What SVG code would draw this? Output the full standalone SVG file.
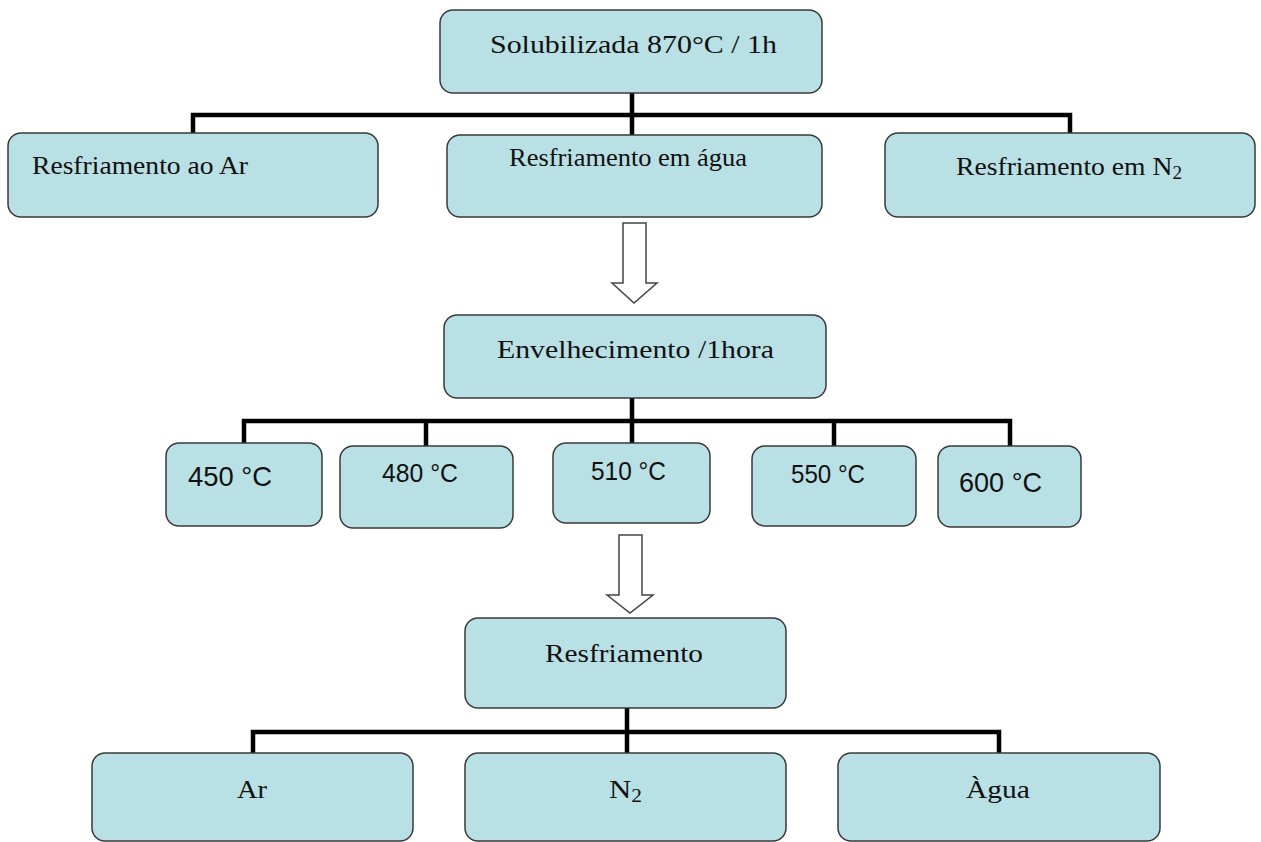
<svg xmlns="http://www.w3.org/2000/svg" width="1261" height="842" viewBox="0 0 1261 842">
<style>
.box{fill:#b9e0e4;stroke:#3a3a3a;stroke-width:1.5}
.serif{font-family:"Liberation Serif","Times New Roman",serif;font-size:26px;fill:#111}
.sans{font-family:"Liberation Sans",Arial,sans-serif;font-size:25px;fill:#111}
.big{font-size:28px}
.conn{fill:none;stroke:#000;stroke-width:4.5}
.arrow{fill:#fff;stroke:#444;stroke-width:1.5}
</style>
<rect width="1261" height="842" fill="#fff"/>
<g id="connectors">
<path class="conn" d="M632 93V135M193 133V115H1070V133"/>
<path class="conn" d="M632 398V443M244 443V421H1010V446M426 421V446M834 421V446"/>
<path class="conn" d="M627 708V753M253 753V732H999V753"/>
<polygon class="arrow" points="623,223 646,223 646,283 657,283 634,303 612,283 623,283"/>
<polygon class="arrow" points="619,535 642,535 642,595 653,595 630,613 607,595 619,595"/>
</g>
<g id="n_solub"><rect class="box" x="440" y="10" width="382" height="83" rx="13"/><text class="serif" x="490" y="53" textLength="287" lengthAdjust="spacingAndGlyphs">Solubilizada 870°C / 1h</text></g>
<g id="n_ar1"><rect class="box" x="8" y="133" width="370" height="84" rx="13"/><text class="serif" x="32" y="174" textLength="216" lengthAdjust="spacingAndGlyphs">Resfriamento ao Ar</text></g>
<g id="n_agua1"><rect class="box" x="447" y="135" width="375" height="82" rx="13"/><text class="serif" x="509" y="166" textLength="238" lengthAdjust="spacingAndGlyphs">Resfriamento em água</text></g>
<g id="n_n21"><rect class="box" x="885" y="133" width="370" height="84" rx="13"/><text class="serif" x="956" y="175" textLength="226" lengthAdjust="spacingAndGlyphs">Resfriamento em N<tspan font-size="18" dy="4">2</tspan></text></g>
<g id="n_env"><rect class="box" x="444" y="315" width="382" height="83" rx="13"/><text class="serif" x="497" y="358" textLength="277" lengthAdjust="spacingAndGlyphs">Envelhecimento /1hora</text></g>
<g id="n_450"><rect class="box" x="166" y="443" width="156" height="83" rx="13"/><text class="sans big" x="188" y="486" textLength="84" lengthAdjust="spacingAndGlyphs">450 °C</text></g>
<g id="n_480"><rect class="box" x="340" y="446" width="173" height="82" rx="13"/><text class="sans" x="382" y="482" textLength="76" lengthAdjust="spacingAndGlyphs">480 °C</text></g>
<g id="n_510"><rect class="box" x="553" y="443" width="157" height="80" rx="13"/><text class="sans" x="591" y="480" textLength="75" lengthAdjust="spacingAndGlyphs">510 °C</text></g>
<g id="n_550"><rect class="box" x="752" y="446" width="164" height="80" rx="13"/><text class="sans" x="791" y="483" textLength="74" lengthAdjust="spacingAndGlyphs">550 °C</text></g>
<g id="n_600"><rect class="box" x="938" y="446" width="143" height="81" rx="13"/><text class="sans big" x="959" y="492" textLength="83" lengthAdjust="spacingAndGlyphs">600 °C</text></g>
<g id="n_resf"><rect class="box" x="465" y="618" width="321" height="90" rx="13"/><text class="serif" x="545" y="662" textLength="158" lengthAdjust="spacingAndGlyphs">Resfriamento</text></g>
<g id="n_ar2"><rect class="box" x="92" y="753" width="321" height="88" rx="13"/><text class="serif" x="237" y="798" textLength="30" lengthAdjust="spacingAndGlyphs">Ar</text></g>
<g id="n_n22"><rect class="box" x="465" y="753" width="321" height="88" rx="13"/><text class="serif" x="609" y="798" textLength="33" lengthAdjust="spacingAndGlyphs">N<tspan font-size="18" dy="4">2</tspan></text></g>
<g id="n_agua2"><rect class="box" x="838" y="753" width="322" height="88" rx="13"/><text class="serif" x="966" y="798" textLength="64" lengthAdjust="spacingAndGlyphs">Àgua</text></g>
</svg>
